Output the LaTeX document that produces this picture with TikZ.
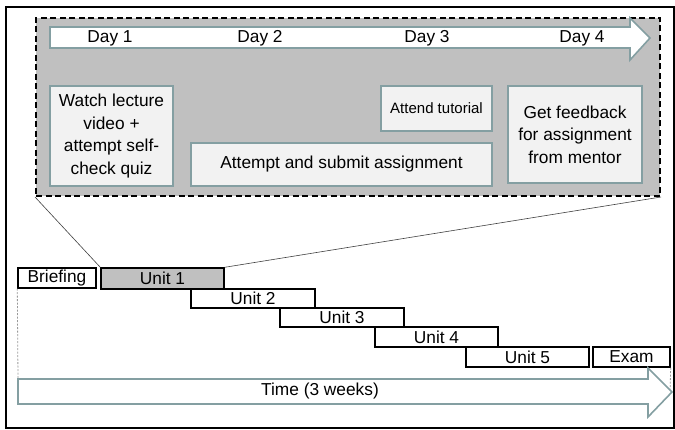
\documentclass[tikz,border=0pt]{standalone}
\usepackage{fontspec}
\setmainfont{Liberation Sans}
\definecolor{zoomgray}{HTML}{C0C0C0}
\definecolor{boxfill}{HTML}{F2F2F2}
\definecolor{tealline}{HTML}{849FA2}
\tikzset{
  act/.style={draw=tealline, line width=1.6pt, fill=boxfill, inner sep=0pt, align=center, font=\fontsize{17.3}{22.5}\selectfont},
  unitbox/.style={draw=black, line width=1.4pt, fill=white, inner sep=0pt, font=\fontsize{17.3}{20}\selectfont},
  arrowbody/.style={draw=tealline, line width=1.6pt, fill=white},
  lbl/.style={font=\fontsize{17.3}{20}\selectfont, inner sep=0pt},
  zoomline/.style={draw=black!75, line width=0.6pt},
  guide/.style={draw=black!40, line width=0.8pt, dash pattern=on 2pt off 1.5pt}
}
\begin{document}
\begin{tikzpicture}[x=1pt,y=-1pt]
\useasboundingbox (0,0) rectangle (675,430);
% outer frame
\draw[line width=2pt] (6,7) rectangle (674,428);
% zoomed panel
\node[draw=black, fill=zoomgray, line width=2pt, dash pattern=on 6pt off 3.5pt, minimum width=624pt, minimum height=178pt, inner sep=0pt] (panel) at (348,107) {};
% day arrow
\draw[arrowbody] (50,27) -- (630,27) -- (630,18) -- (650,38) -- (630,60) -- (630,48) -- (50,48) -- cycle;
\node[lbl] (d1) at (110,38) {Day 1};
\node[lbl] (d2) at (260,38) {Day 2};
\node[lbl] (d3) at (427,38) {Day 3};
\node[lbl] (d4) at (582,38) {Day 4};
% activity boxes
\node[act, minimum width=123pt, minimum height=100pt] (watch) at (111.5,136) {Watch lecture\\video +\\attempt self-\\check quiz};
\node[act, minimum width=301pt, minimum height=43pt] (assign) at (341.5,164.5) {Attempt and submit assignment};
\node[act, minimum width=111pt, minimum height=45pt, font=\fontsize{15}{18}\selectfont] (tut) at (436.5,108.5) {Attend tutorial};
\node[act, minimum width=134pt, minimum height=97pt] (feed) at (575,134.5) {Get feedback\\for assignment\\from mentor};
% unit boxes
\node[unitbox, minimum width=78pt, minimum height=20pt] (brief) at (57,278) {Briefing};
\node[unitbox, fill=zoomgray, minimum width=123pt, minimum height=21pt] (u1) at (162.5,278.5) {Unit 1};
\node[unitbox, minimum width=124pt, minimum height=19pt] (u2) at (253,298.5) {Unit 2};
\node[unitbox, minimum width=124pt, minimum height=19pt] (u3) at (342,317.5) {Unit 3};
\node[unitbox, minimum width=123pt, minimum height=20pt] (u4) at (436.5,337) {Unit 4};
\node[unitbox, minimum width=123pt, minimum height=20pt] (u5) at (527.5,357) {Unit 5};
\node[unitbox, minimum width=77pt, minimum height=20pt] (exam) at (631.5,357) {Exam};
% zoom connectors
\draw[zoomline] (panel.south west) -- (u1.north west);
\draw[zoomline] (panel.south east) -- (u1.north east);
% time arrow
\coordinate (tstart) at (18,379);
\coordinate (tend) at (670,392);
\draw[guide] (brief.south west) -- (tstart);
\draw[guide] (exam.south east) -- (tend);
\draw[arrowbody] (18,379) -- (648,379) -- (648,368) -- (672,392) -- (648,417) -- (648,404) -- (18,404) -- cycle;
\node[lbl] (time) at (320,391.5) {Time (3 weeks)};
\end{tikzpicture}
\end{document}
